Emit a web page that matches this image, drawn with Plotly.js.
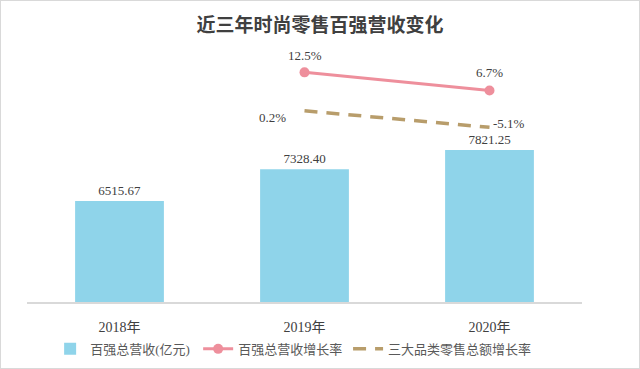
<!DOCTYPE html>
<html>
<head>
<meta charset="utf-8">
<script src="https://cdn.plot.ly/plotly-3.0.1.min.js"></script>
<style>
html,body{margin:0;padding:0;background:#fff;}
#chart{width:640px;height:369px;box-sizing:border-box;border:1px solid #d9d9d9;}
</style>
</head>
<body>
<div id="chart"></div>
<script>
const years = ["2018年", "2019年", "2020年"];
const revenue = [6515.67, 7328.40, 7821.25];
const revenueGrowth = [null, 12.5, 6.7];
const categoryGrowth = [null, 0.2, -5.1];
const seriesNames = ["百强总营收(亿元)", "百强总营收增长率", "三大品类零售总额增长率"];

const serif = '"Liberation Serif", "Times New Roman", "Noto Sans CJK SC", serif';
const textColor = '#404040';

const traces = [
  {
    type: 'bar', x: years, y: revenue, name: seriesNames[0], legend: 'legend',
    marker: {color: '#8fd4ea'}, width: 0.48,
    text: revenue.map(v => v.toFixed(2)), textposition: 'outside',
    textfont: {family: serif, size: 13, color: textColor},
    cliponaxis: false, hoverinfo: 'none'
  },
  {
    type: 'scatter', mode: 'lines+markers', x: years, y: revenueGrowth, yaxis: 'y2',
    name: seriesNames[1], legend: 'legend2', line: {color: '#ee8f9c', width: 3},
    marker: {color: '#ee8f9c', size: 10}, cliponaxis: false, hoverinfo: 'none'
  },
  {
    type: 'scatter', mode: 'lines', x: years, y: categoryGrowth, yaxis: 'y2',
    name: seriesNames[2], legend: 'legend3', line: {color: '#b89d6b', width: 3.5, dash: '13px,9px'},
    cliponaxis: false, hoverinfo: 'none'
  }
];

const labelShifts1 = [null, [0, 17], [0, 18]];
const labelShifts2 = [null, [-32, -7], [19, 4]];
const annotations = [];
years.forEach((yr, i) => {
  if (revenueGrowth[i] !== null) {
    annotations.push({x: yr, y: revenueGrowth[i], xref: 'x', yref: 'y2',
      text: revenueGrowth[i].toFixed(1) + '%', showarrow: false,
      xshift: labelShifts1[i][0], yshift: labelShifts1[i][1],
      font: {family: serif, size: 13, color: textColor}});
  }
  if (categoryGrowth[i] !== null) {
    annotations.push({x: yr, y: categoryGrowth[i], xref: 'x', yref: 'y2',
      text: categoryGrowth[i].toFixed(1) + '%', showarrow: false,
      xshift: labelShifts2[i][0], yshift: labelShifts2[i][1],
      font: {family: serif, size: 13, color: textColor}});
  }
});

const legendBase = {orientation: 'h', xref: 'container', xanchor: 'left',
  y: 0.052, yref: 'container', yanchor: 'middle',
  font: {family: serif, size: 13, color: '#595959'}};

const layout = {
  width: 638, height: 367,
  margin: {l: 26, r: 57, t: 39, b: 66, pad: 0},
  paper_bgcolor: '#fff', plot_bgcolor: '#fff',
  title: {text: '<b>近三年时尚零售百强营收变化</b>', x: 0.5, xref: 'container', xanchor: 'center',
    y: 0.935, yref: 'container', yanchor: 'middle',
    font: {family: serif, size: 19, color: textColor}},
  xaxis: {type: 'category', showline: true, linecolor: '#d9d9d9', linewidth: 1.5,
    ticks: '', showgrid: false, zeroline: false,
    tickfont: {family: serif, size: 14, color: textColor}, ticklabelstandoff: 12},
  yaxis: {range: [3926, 10644], visible: false, showgrid: false, zeroline: false},
  yaxis2: {range: [-61.0, 22.85], overlaying: 'y', side: 'right', visible: false,
    showgrid: false, zeroline: false},
  showlegend: true,
  legend: Object.assign({}, legendBase, {x: 0.077}),
  legend2: Object.assign({}, legendBase, {x: 0.309}),
  legend3: Object.assign({}, legendBase, {x: 0.544}),
  annotations: annotations,
  bargap: 0.52
};

Plotly.newPlot('chart', traces, layout, {staticPlot: true, displayModeBar: false});
</script>
</body>
</html>
